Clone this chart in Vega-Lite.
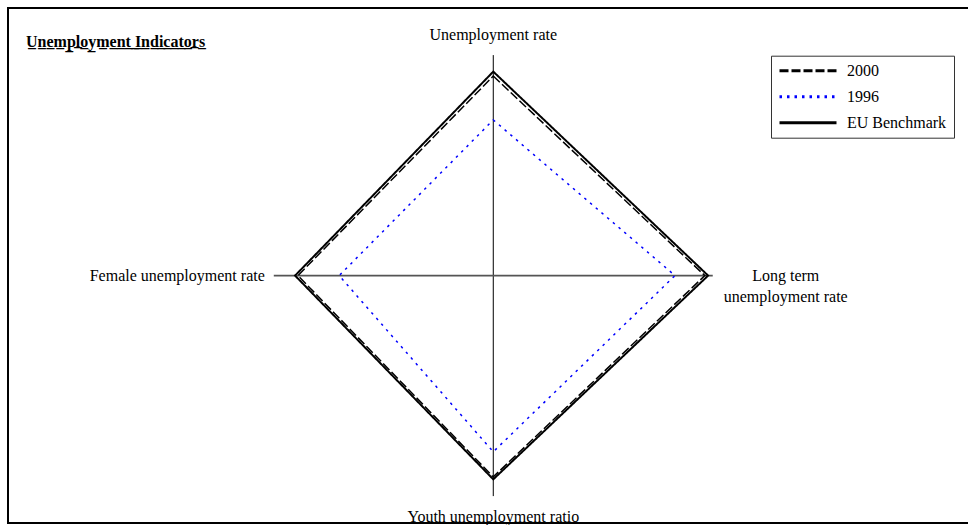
{
  "$schema": "https://vega.github.io/schema/vega-lite/v6.json",
  "width": 960,
  "height": 515,
  "autosize": {"type": "none"},
  "padding": {"left": 8, "top": 8, "right": 0, "bottom": 2},
  "background": "white",
  "config": {
    "view": {"stroke": null},
    "font": "Liberation Serif",
    "text": {"font": "Liberation Serif", "fontSize": 16, "color": "black"},
    "legend": {
      "labelFont": "Liberation Serif",
      "labelFontSize": 16,
      "labelColor": "black",
      "symbolType": "M-1.3,0H10.1",
      "symbolSize": 100,
      "symbolStrokeWidth": 3,
      "labelOffset": 53,
      "rowPadding": 10,
      "padding": 7,
      "strokeColor": "#333333",
      "fillColor": "white"
    }
  },
  "title": {
    "text": "U̲n̲e̲m̲p̲l̲o̲y̲m̲e̲n̲t̲ ̲I̲n̲d̲i̲c̲a̲t̲o̲r̲s̲",
    "anchor": "start",
    "frame": "group",
    "orient": "top",
    "offset": -56,
    "dx": 18,
    "baseline": "alphabetic",
    "font": "Liberation Serif",
    "fontSize": 16,
    "fontWeight": "bold",
    "color": "black"
  },
  "datasets": {
    "scores": [
      {"series": "EU Benchmark", "indicator": "Unemployment rate", "value": 92.5},
      {"series": "EU Benchmark", "indicator": "Long term unemployment rate", "value": 97.9},
      {"series": "EU Benchmark", "indicator": "Youth unemployment ratio", "value": 92.4},
      {"series": "EU Benchmark", "indicator": "Female unemployment rate", "value": 90.3},
      {"series": "2000", "indicator": "Unemployment rate", "value": 90.5},
      {"series": "2000", "indicator": "Long term unemployment rate", "value": 96.4},
      {"series": "2000", "indicator": "Youth unemployment ratio", "value": 91.3},
      {"series": "2000", "indicator": "Female unemployment rate", "value": 89.0},
      {"series": "1996", "indicator": "Unemployment rate", "value": 70.6},
      {"series": "1996", "indicator": "Long term unemployment rate", "value": 82.8},
      {"series": "1996", "indicator": "Youth unemployment ratio", "value": 79.9},
      {"series": "1996", "indicator": "Female unemployment rate", "value": 70.2}
    ],
    "axes": [
      {"indicator": "Unemployment rate", "label": "Unemployment rate", "value": 100},
      {"indicator": "Long term unemployment rate", "label": "Long term\nunemployment rate", "value": 100},
      {"indicator": "Youth unemployment ratio", "label": "Youth unemployment ratio", "value": 100},
      {"indicator": "Female unemployment rate", "label": "Female unemployment rate", "value": 100}
    ]
  },
  "layer": [
    {
      "data": {"values": [{"frame": "top"}]},
      "mark": {"type": "rule", "color": "black", "strokeWidth": 2, "strokeCap": "square"},
      "encoding": {
        "x": {"datum": -221.1, "type": "quantitative", "scale": {"domain": [-221.1, 216.3], "nice": false, "zero": false}, "axis": null},
        "x2": {"datum": 216.3},
        "y": {"datum": 121.36, "type": "quantitative", "scale": {"domain": [-112.2, 121.36], "nice": false, "zero": false}, "axis": null}
      }
    },
    {
      "data": {"values": [{"frame": "bottom"}]},
      "mark": {"type": "rule", "color": "black", "strokeWidth": 2, "strokeCap": "square"},
      "encoding": {
        "x": {"datum": -221.1, "type": "quantitative", "axis": null},
        "x2": {"datum": 216.3},
        "y": {"datum": -112.2, "type": "quantitative", "axis": null}
      }
    },
    {
      "data": {"values": [{"frame": "left"}]},
      "mark": {"type": "rule", "color": "black", "strokeWidth": 2, "strokeCap": "square"},
      "encoding": {
        "x": {"datum": -221.1, "type": "quantitative", "axis": null},
        "y": {"datum": -112.2, "type": "quantitative", "axis": null},
        "y2": {"datum": 121.36}
      }
    },
    {
      "data": {"name": "axes"},
      "transform": [
        {"filter": "datum.indicator === 'Unemployment rate' || datum.indicator === 'Youth unemployment ratio'"},
        {"calculate": "datum.indicator === 'Long term unemployment rate' ? datum.value : datum.indicator === 'Female unemployment rate' ? -datum.value : 0", "as": "x"},
        {"calculate": "datum.indicator === 'Unemployment rate' ? datum.value : datum.indicator === 'Youth unemployment ratio' ? -datum.value : 0", "as": "y"}
      ],
      "mark": {"type": "rule", "color": "black", "strokeWidth": 1},
      "encoding": {
        "x": {"field": "x", "type": "quantitative", "axis": null},
        "y": {"field": "y", "type": "quantitative", "axis": null},
        "x2": {"datum": 0},
        "y2": {"datum": 0}
      }
    },
    {
      "data": {"name": "axes"},
      "transform": [
        {"filter": "datum.indicator === 'Long term unemployment rate' || datum.indicator === 'Female unemployment rate'"},
        {"calculate": "datum.indicator === 'Long term unemployment rate' ? datum.value : datum.indicator === 'Female unemployment rate' ? -datum.value : 0", "as": "x"},
        {"calculate": "datum.indicator === 'Unemployment rate' ? datum.value : datum.indicator === 'Youth unemployment ratio' ? -datum.value : 0", "as": "y"}
      ],
      "mark": {"type": "rule", "color": "#555555", "strokeWidth": 1.8},
      "encoding": {
        "x": {"field": "x", "type": "quantitative", "axis": null},
        "y": {"field": "y", "type": "quantitative", "axis": null},
        "x2": {"datum": 0},
        "y2": {"datum": 0}
      }
    },
    {
      "data": {"name": "scores"},
      "transform": [
        {"filter": "datum.series !== 'EU Benchmark'"},
        {"calculate": "datum.indicator === 'Long term unemployment rate' ? datum.value : datum.indicator === 'Female unemployment rate' ? -datum.value : 0", "as": "x"},
        {"calculate": "datum.indicator === 'Unemployment rate' ? datum.value : datum.indicator === 'Youth unemployment ratio' ? -datum.value : 0", "as": "y"},
        {"calculate": "indexof(['Unemployment rate','Long term unemployment rate','Youth unemployment ratio','Female unemployment rate'], datum.indicator)", "as": "k"}
      ],
      "mark": {"type": "line", "interpolate": "linear-closed", "strokeWidth": 1.5},
      "encoding": {
        "x": {"field": "x", "type": "quantitative", "axis": null},
        "y": {"field": "y", "type": "quantitative", "axis": null},
        "order": {"field": "k", "type": "quantitative"},
        "color": {
          "field": "series", "type": "nominal",
          "scale": {"domain": ["2000", "1996", "EU Benchmark"], "range": ["#000000", "#0000ff", "#000000"]},
          "legend": {"orient": "none", "legendX": 763, "legendY": 47.7, "title": null}
        },
        "strokeDash": {
          "field": "series", "type": "nominal",
          "scale": {"domain": ["2000", "1996", "EU Benchmark"], "range": [[9, 3], [2.5, 5], [1, 0]]},
          "legend": {"orient": "none", "legendX": 763, "legendY": 47.7, "title": null}
        }
      }
    },
    {
      "data": {"name": "scores"},
      "transform": [
        {"filter": "datum.series === 'EU Benchmark'"},
        {"calculate": "datum.indicator === 'Long term unemployment rate' ? datum.value : datum.indicator === 'Female unemployment rate' ? -datum.value : 0", "as": "x"},
        {"calculate": "datum.indicator === 'Unemployment rate' ? datum.value : datum.indicator === 'Youth unemployment ratio' ? -datum.value : 0", "as": "y"},
        {"calculate": "indexof(['Unemployment rate','Long term unemployment rate','Youth unemployment ratio','Female unemployment rate'], datum.indicator)", "as": "k"}
      ],
      "mark": {"type": "line", "interpolate": "linear-closed", "strokeWidth": 2},
      "encoding": {
        "x": {"field": "x", "type": "quantitative", "axis": null},
        "y": {"field": "y", "type": "quantitative", "axis": null},
        "order": {"field": "k", "type": "quantitative"},
        "color": {"field": "series", "type": "nominal"},
        "strokeDash": {"field": "series", "type": "nominal"}
      }
    },
    {
      "data": {"name": "axes"},
      "transform": [
        {"filter": "datum.indicator === 'Unemployment rate'"},
        {"calculate": "0", "as": "x"},
        {"calculate": "datum.value", "as": "y"}
      ],
      "mark": {"type": "text", "align": "center", "baseline": "alphabetic", "dy": -15},
      "encoding": {
        "x": {"field": "x", "type": "quantitative", "axis": null},
        "y": {"field": "y", "type": "quantitative", "axis": null},
        "text": {"field": "label"}
      }
    },
    {
      "data": {"name": "axes"},
      "transform": [
        {"filter": "datum.indicator === 'Long term unemployment rate'"},
        {"calculate": "datum.value", "as": "x"},
        {"calculate": "0", "as": "y"}
      ],
      "mark": {"type": "text", "align": "center", "baseline": "middle", "dx": 73, "lineBreak": "\n", "lineHeight": 21},
      "encoding": {
        "x": {"field": "x", "type": "quantitative", "axis": null},
        "y": {"field": "y", "type": "quantitative", "axis": null},
        "text": {"field": "label"}
      }
    },
    {
      "data": {"name": "axes"},
      "transform": [
        {"filter": "datum.indicator === 'Youth unemployment ratio'"},
        {"calculate": "0", "as": "x"},
        {"calculate": "-datum.value", "as": "y"}
      ],
      "mark": {"type": "text", "align": "center", "baseline": "alphabetic", "dy": 25.8},
      "encoding": {
        "x": {"field": "x", "type": "quantitative", "axis": null},
        "y": {"field": "y", "type": "quantitative", "axis": null},
        "text": {"field": "label"}
      }
    },
    {
      "data": {"name": "axes"},
      "transform": [
        {"filter": "datum.indicator === 'Female unemployment rate'"},
        {"calculate": "-datum.value", "as": "x"},
        {"calculate": "0", "as": "y"}
      ],
      "mark": {"type": "text", "align": "right", "baseline": "middle", "dx": -9},
      "encoding": {
        "x": {"field": "x", "type": "quantitative", "axis": null},
        "y": {"field": "y", "type": "quantitative", "axis": null},
        "text": {"field": "label"}
      }
    }
  ]
}
